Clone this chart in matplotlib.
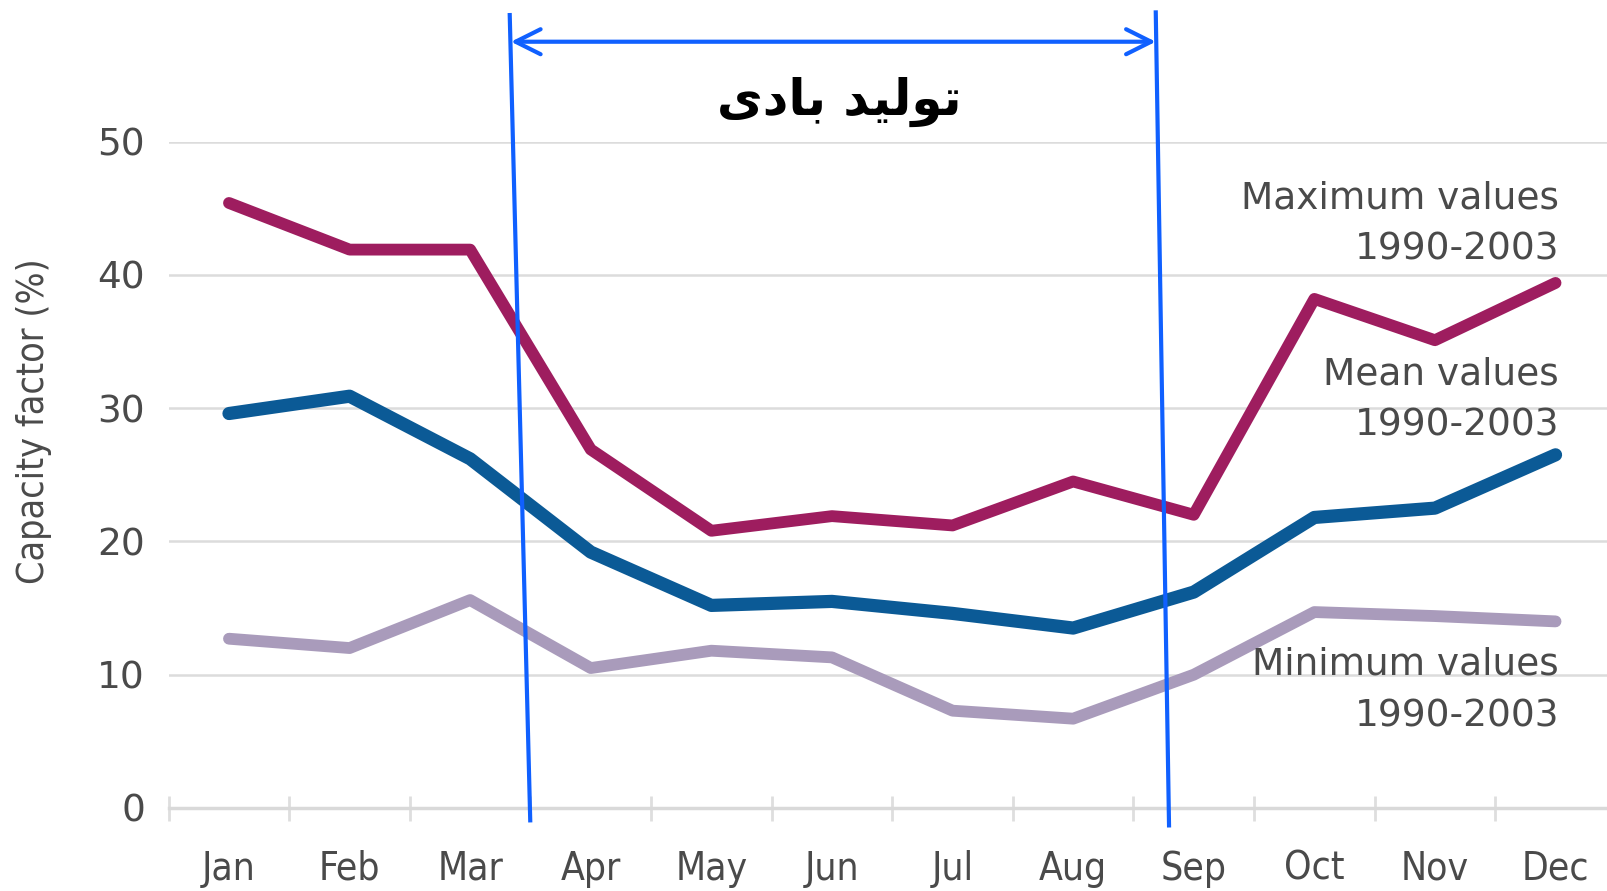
import numpy as np
import matplotlib.pyplot as plt
from matplotlib.ticker import FixedLocator

months = ['Jan', 'Feb', 'Mar', 'Apr', 'May', 'Jun',
          'Jul', 'Aug', 'Sep', 'Oct', 'Nov', 'Dec']
max_vals = [45.4, 41.9, 41.9, 26.9, 20.8, 21.9, 21.2, 24.5, 22.0, 38.2, 35.1, 39.4]
mean_vals = [29.6, 30.9, 26.2, 19.2, 15.2, 15.5, 14.6, 13.5, 16.2, 21.8, 22.5, 26.5]
min_vals = [12.7, 12.0, 15.6, 10.5, 11.8, 11.3, 7.3, 6.7, 10.0, 14.7, 14.4, 14.0]
y_ticks = [0, 10, 20, 30, 40, 50]

# "تولید بادی" written with presentation forms, in visual order
wind_text = '\uFEEF\uFEA9\uFE8E\uFE91 \uFEAA\uFEF4\uFEDF\uFEEE\uFE97'

grey = '#4a4a4a'
x = np.arange(len(months))

fig = plt.figure(figsize=(16.08, 8.91), dpi=100)
ax = fig.add_axes([0.1049, 0.0932, 0.8951, 0.7478])

ax.plot(x, min_vals, color='#a99bbb', lw=8.5, solid_capstyle='round', zorder=3)
ax.plot(x, mean_vals, color='#0b5a96', lw=9.5, solid_capstyle='round', zorder=3)
ax.plot(x, max_vals, color='#9e1d5f', lw=8.5, solid_capstyle='round', zorder=3)

ax.set_xlim(-0.5, 11.435)
ax.set_ylim(0, 50)

for s in ['top', 'right', 'left']:
    ax.spines[s].set_visible(False)
ax.spines['bottom'].set_color('#d9d9d9')
ax.spines['bottom'].set_linewidth(2.5)

ax.set_yticks(y_ticks)
ax.set_yticklabels([str(v) for v in y_ticks], fontsize=27, color=grey)
ax.tick_params(axis='y', length=0, pad=17)
ax.yaxis.grid(True, color='#dcdcdc', lw=1.8)
ax.set_axisbelow(True)

ax.set_xticks(x)
ax.set_xticklabels(months, fontsize=28, color=grey, fontstretch='condensed')
ax.xaxis.set_minor_locator(FixedLocator(x - 0.5))
ax.tick_params(axis='x', which='major', length=0, pad=30)
ax.tick_params(axis='x', which='minor', length=18, width=2,
               direction='inout', color='#dedede')

ax.set_ylabel('Capacity factor (%)', fontsize=27, color=grey,
              fontstretch='condensed')
ax.yaxis.set_label_coords(-0.081, 0.58)

lab_kw = dict(ha='right', va='center', fontsize=27, color=grey,
              linespacing=1.55, transform=ax.transData)
ax.text(11.03, 43.8, 'Maximum values\n1990-2003', **lab_kw)
ax.text(11.03, 30.6, 'Mean values\n1990-2003', **lab_kw)
ax.text(11.03, 8.8, 'Minimum values\n1990-2003', **lab_kw)

# blue overlay marking the wind period
blue = '#1060ff'
ax.plot([2.328, 2.498], [59.5, -0.93], color=blue, lw=3, clip_on=False, zorder=5)
ax.plot([7.685, 7.795], [59.7, -1.31], color=blue, lw=3, clip_on=False, zorder=5)
ax.annotate('', xy=(7.685, 57.5), xytext=(2.338, 57.5),
            arrowprops=dict(arrowstyle='<->', color=blue, lw=3,
                            mutation_scale=45, shrinkA=0, shrinkB=0),
            annotation_clip=False, zorder=5)
ax.text(5.058, 53.0, wind_text, ha='center', va='center', fontsize=36,
        fontweight='bold', color='black', family='DejaVu Sans', clip_on=False)

fig.savefig('out.png', dpi=100, facecolor='white')
